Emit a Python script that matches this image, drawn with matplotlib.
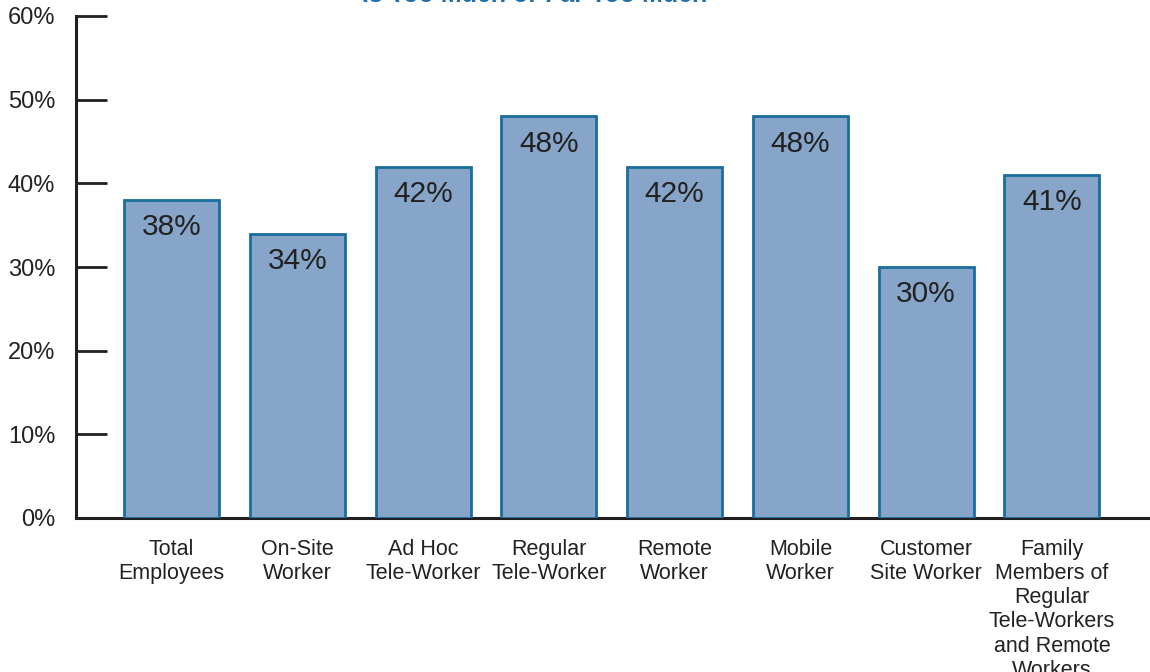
import matplotlib
matplotlib.use("Agg")
import matplotlib.pyplot as plt

categories = ["Total\nEmployees", "On-Site\nWorker", "Ad Hoc\nTele-Worker", "Regular\nTele-Worker",
              "Remote\nWorker", "Mobile\nWorker", "Customer\nSite Worker",
              "Family\nMembers of\nRegular\nTele-Workers\nand Remote\nWorkers"]
values = [38, 34, 42, 48, 42, 48, 30, 41]
yticks = [0, 10, 20, 30, 40, 50, 60]
title = "Is Too Much or Far Too Much"

plt.rcParams['font.family'] = ['Liberation Sans', 'DejaVu Sans']

fig = plt.figure(figsize=(11.5, 6.72), dpi=100)
ax = fig.add_axes([76/1150, 1 - 518/672, (1150-76)/1150, (518-16)/672])

x = list(range(len(values)))
bars = ax.bar(x, values, width=0.755, color='#86a5c8', edgecolor='#1a6e9e', linewidth=2, zorder=3)
for xi, v in zip(x, values):
    ax.text(xi, v - 1.6, f"{v}%", ha='center', va='top', fontsize=21.5, color='#222222', zorder=4)

ax.set_xlim(-0.76, 7.78)
ax.set_ylim(0, 60)
ax.set_yticks(yticks)
ax.set_yticklabels([f"{t}%" for t in yticks], fontsize=17, color='#222222')
ax.tick_params(axis='y', direction='in', length=22, width=2, color='#231f20', pad=15)
ax.set_xticks(x)
ax.set_xticklabels(categories, fontsize=15.5, color='#222222', linespacing=1.2, va='top')
ax.tick_params(axis='x', length=0, pad=15)
for s in ['top', 'right']:
    ax.spines[s].set_visible(False)
for s in ['left', 'bottom']:
    ax.spines[s].set_linewidth(2.2)
    ax.spines[s].set_color('#231f20')
ax.spines['left'].set_zorder(5)

fig.text(535/1150, 1 - 2/672, title, ha='center', va='baseline', fontsize=18, fontweight='bold', color='#1f6fa8')

fig.savefig("out.png", dpi=100)
